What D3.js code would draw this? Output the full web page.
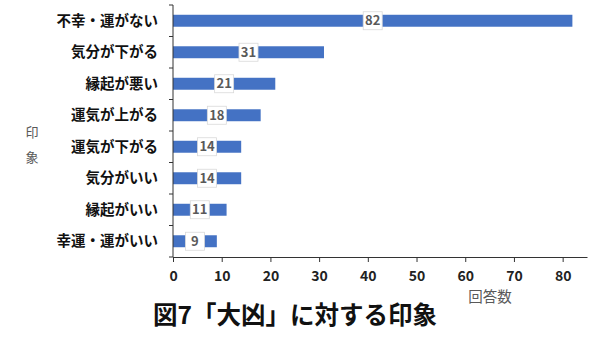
<!DOCTYPE html>
<html>
<head>
<meta charset="utf-8">
<script src="https://cdn.jsdelivr.net/npm/d3@7"></script>
<style>
  body { margin: 0; background: #fff; }
  svg { font-family: "Noto Sans CJK JP", "Noto Sans", sans-serif; }
</style>
</head>
<body>
<div id="root"></div>
<script>
'use strict';

const categories = ['不幸・運がない', '気分が下がる', '縁起が悪い', '運気が上がる', '運気が下がる', '気分がいい', '縁起がいい', '幸運・運がいい'];
const counts = [82, 31, 21, 18, 14, 14, 11, 9];
const xTicks = [0, 10, 20, 30, 40, 50, 60, 70, 80];

const w = 600, h = 338,
      padL = 173, padR = 587, padT = 5, padB = 257;

const svg = d3.select('#root').append('svg')
  .attr('width', w).attr('height', h);

const x = d3.scaleLinear().domain([0, 85]).range([padL, padR]);
const y = d3.scaleBand().domain(categories).range([padT, padB]).paddingInner(0.62).paddingOuter(0.31);

// bars
svg.selectAll('rect.bar')
  .data(counts)
  .enter().append('rect')
  .attr('class', 'bar')
  .attr('x', x(0))
  .attr('y', (d, i) => y(categories[i]))
  .attr('width', d => x(d) - x(0))
  .attr('height', y.bandwidth())
  .attr('fill', '#4472c4');

// x axis
const gx = svg.append('g')
  .attr('transform', 'translate(0,' + padB + ')')
  .call(d3.axisBottom(x).tickValues(xTicks).tickSize(5).tickSizeOuter(0));
gx.select('.domain').attr('stroke', '#333');
gx.selectAll('.tick line').attr('stroke', '#333');
gx.selectAll('.tick text')
  .attr('dy', '1.15em')
  .attr('font-size', 14).attr('font-weight', 'bold').attr('fill', '#222')
  .attr('font-family', '"Noto Sans CJK JP", sans-serif');

// y axis (ticks at band edges)
const edges = categories.map(c => y(c) - y.step() * y.paddingInner() / 2).concat([padB]);
svg.append('line')
  .attr('x1', padL).attr('x2', padL).attr('y1', padT).attr('y2', padB)
  .attr('stroke', '#333');
svg.selectAll('line.ytick')
  .data(edges)
  .enter().append('line')
  .attr('class', 'ytick')
  .attr('x1', padL - 4).attr('x2', padL)
  .attr('y1', d => d).attr('y2', d => d)
  .attr('stroke', '#333');

svg.selectAll('text.cat')
  .data(categories)
  .enter().append('text')
  .attr('class', 'cat')
  .attr('x', padL - 15)
  .attr('y', d => y(d) + y.bandwidth() / 2)
  .attr('dy', '0.35em')
  .attr('text-anchor', 'end')
  .attr('font-size', 14.5).attr('font-weight', 'bold').attr('fill', '#111')
  .text(d => d);

// data labels
const lab = svg.selectAll('g.lab')
  .data(counts)
  .enter().append('g')
  .attr('class', 'lab')
  .attr('transform', (d, i) => 'translate(' + x(d / 2) + ',' + (y(categories[i]) + y.bandwidth() / 2) + ')');
lab.append('rect')
  .attr('x', -9.5).attr('y', -9).attr('width', 19).attr('height', 18)
  .attr('fill', '#fff').attr('stroke', '#d9d9d9').attr('stroke-width', 0.8);
lab.append('text')
  .attr('text-anchor', 'middle').attr('dy', '0.36em')
  .attr('font-size', 13).attr('font-weight', 'bold').attr('fill', '#595959')
  .text(d => d);

// axis titles
svg.selectAll('text.ytitle')
  .data(['印', '象'])
  .enter().append('text')
  .attr('class', 'ytitle')
  .attr('x', 32)
  .attr('y', (d, i) => 132 + i * 25)
  .attr('dy', '0.35em')
  .attr('text-anchor', 'middle')
  .attr('font-size', 13).attr('fill', '#595959')
  .text(d => d);

svg.append('text')
  .attr('x', 490).attr('y', 297)
  .attr('dy', '0.35em')
  .attr('text-anchor', 'middle')
  .attr('font-size', 14.5).attr('fill', '#595959')
  .text('回答数');

svg.append('text')
  .attr('x', 295).attr('y', 315)
  .attr('dy', '0.35em')
  .attr('text-anchor', 'middle')
  .attr('font-size', 24.5).attr('font-weight', 'bold').attr('fill', '#111')
  .text('図7「大凶」に対する印象');
</script>
</body>
</html>
